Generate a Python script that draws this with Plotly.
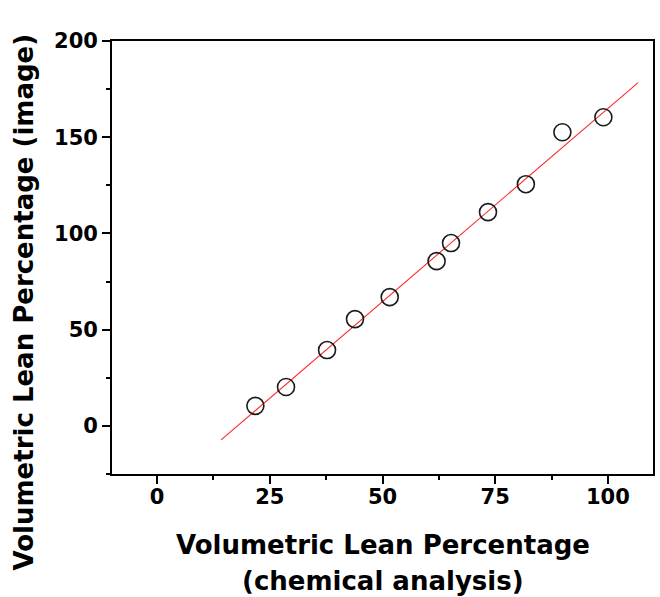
import plotly.graph_objects as go

# measured data (chemical analysis vs image)
chem_pct = [21.8, 28.6, 37.7, 43.9, 51.6, 62.0, 65.2, 73.4, 81.8, 89.9, 99.0]
image_pct = [10.4, 20.2, 39.4, 55.5, 66.9, 85.6, 95.0, 111.1, 125.6, 152.6, 160.4]

# fitted line end points
fit_x = [14.2, 106.7]
fit_y = [-7.3, 178.4]

x_ticks = [0, 25, 50, 75, 100]
y_ticks = [0, 50, 100, 150, 200]

FONT = "DejaVu Sans, sans-serif"

fig = go.Figure()
fig.add_trace(go.Scatter(
    x=fit_x, y=fit_y, mode="lines",
    line=dict(color="#ff2a2a", width=1.1),
    showlegend=False, hoverinfo="skip"))
fig.add_trace(go.Scatter(
    x=chem_pct, y=image_pct, mode="markers",
    marker=dict(symbol="circle-open", size=17, color="#1a1a1a",
                line=dict(width=1.6, color="#1a1a1a")),
    showlegend=False))

axis_common = dict(
    showgrid=False, zeroline=False,
    showline=True, linecolor="black", linewidth=1.8, mirror=True,
    ticks="outside", ticklen=8, tickwidth=1.6, tickcolor="black",
    tickfont=dict(family=FONT, size=21, color="black", weight="bold"),
)

fig.update_xaxes(
    range=[-10, 110], tickmode="array", tickvals=x_ticks,
    ticktext=[str(v) for v in x_ticks], ticklabelstandoff=-5,
    minor=dict(ticks="outside", ticklen=4, tickwidth=1.6, tickcolor="black", dtick=12.5, tick0=0, showgrid=False),
    **axis_common)
fig.update_yaxes(
    range=[-25, 200], tickmode="array", tickvals=y_ticks,
    ticktext=[str(v) for v in y_ticks],
    minor=dict(ticks="outside", ticklen=4, tickwidth=1.6, tickcolor="black", dtick=25, tick0=0, showgrid=False),
    **axis_common)

title_font = dict(family=FONT, size=26, color="black", weight="bold")

fig.add_annotation(
    text="Volumetric Lean Percentage", xref="paper", yref="paper",
    x=0.5, y=-0.164, xanchor="center", yanchor="middle",
    showarrow=False, font=title_font)
fig.add_annotation(
    text="(chemical analysis)", xref="paper", yref="paper",
    x=0.5, y=-0.247, xanchor="center", yanchor="middle",
    showarrow=False, font=title_font)
fig.add_annotation(
    text="Volumetric Lean Percentage (image)", xref="paper", yref="paper",
    x=-0.162, y=0.397, xanchor="center", yanchor="middle", textangle=-90,
    showarrow=False, font=title_font)

fig.update_layout(
    width=660, height=597,
    margin=dict(l=112, r=5, t=41, b=123),
    paper_bgcolor="white", plot_bgcolor="white",
)

fig.write_html("out.html", config={"displayModeBar": False},
               post_script="document.body.style.margin='0';")
